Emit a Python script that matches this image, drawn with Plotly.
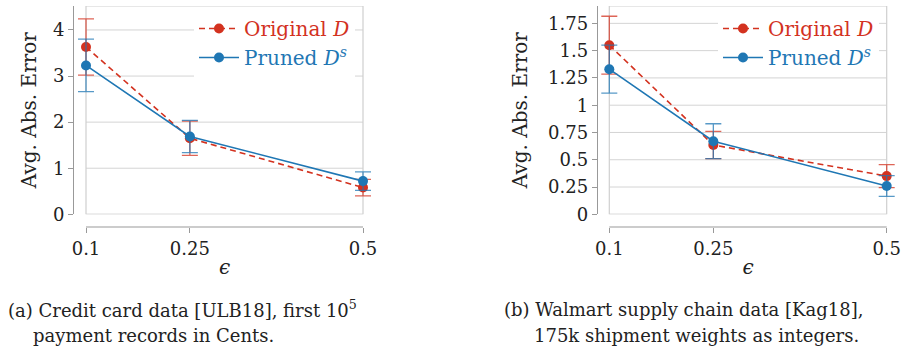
import plotly.graph_objects as go

# ---------------- data ----------------
eps = [0.1, 0.25, 0.5]
eps_labels = ["0.1", "0.25", "0.5"]

# (a) Credit card data
a_orig = [3.63, 1.65, 0.58]
a_orig_err = [0.61, 0.37, 0.18]
a_pruned = [3.23, 1.69, 0.72]
a_pruned_err = [0.57, 0.35, 0.20]
a_yticks = [0, 1, 2, 3, 4]
a_yticklabels = ["0", "1", "2", "3", "4"]
a_ymax = 4.52

# (b) Walmart supply chain data
b_orig = [1.55, 0.635, 0.35]
b_orig_err = [0.265, 0.125, 0.105]
b_pruned = [1.33, 0.67, 0.26]
b_pruned_err = [0.22, 0.16, 0.095]
b_yticks = [0, 0.25, 0.5, 0.75, 1, 1.25, 1.5, 1.75]
b_yticklabels = ["0", "0.25", "0.5", "0.75", "1", "1.25", "1.5", "1.75"]
b_ymax = 1.909

RED = "#d3321f"
BLUE = "#1f77b4"
RED_ERR = "rgba(211,50,31,0.75)"
BLUE_ERR = "rgba(31,119,180,0.75)"
FONT = "DejaVu Serif"
TXT = "#222222"
AXIS_C = "#999999"
GRID_C = "#d4d4d4"
BOX_C = "#cfcfcf"

name_orig = f"<span style='color:{RED}'>Original <i>D</i></span>"
name_pruned = f"<span style='color:{BLUE}'>Pruned <i>D</i><sup><i>s</i></sup></span>"

fig = go.Figure()


def add_panel(xa, ya, leg, orig, orig_err, pruned, pruned_err):
    fig.add_trace(go.Scatter(
        x=eps, y=orig, xaxis=xa, yaxis=ya, legend=leg,
        mode="lines+markers", name=name_orig,
        line=dict(color=RED, width=1.6, dash="6px,4px"),
        marker=dict(color=RED, size=10),
        error_y=dict(type="data", array=orig_err, color=RED_ERR, thickness=1.3, width=8),
        cliponaxis=False,
    ))
    fig.add_trace(go.Scatter(
        x=eps, y=pruned, xaxis=xa, yaxis=ya, legend=leg,
        mode="lines+markers", name=name_pruned,
        line=dict(color=BLUE, width=1.6),
        marker=dict(color=BLUE, size=10),
        error_y=dict(type="data", array=pruned_err, color=BLUE_ERR, thickness=1.3, width=8),
        cliponaxis=False,
    ))


add_panel("x", "y", "legend", a_orig, a_orig_err, a_pruned, a_pruned_err)
add_panel("x2", "y2", "legend2", b_orig, b_orig_err, b_pruned, b_pruned_err)

W, H = 902, 349
ydom = [(H - 214.3) / H, (H - 6) / H]
xpos = (H - 227) / H

# x scale: eps[0] at px0, eps[-1] at px1; a small padding keeps error caps unclipped
PAD = 0.015
xlo, xhi = eps[0] - PAD, eps[-1] + PAD


def xdomain(px0, px1):
    k = (px1 - px0) / (eps[-1] - eps[0])
    return [(px0 - PAD * k) / W, (px1 + PAD * k) / W]


common_x = dict(
    anchor="free", position=xpos, range=[xlo, xhi], automargin=False,
    tickvals=eps, ticktext=eps_labels,
    ticks="outside", ticklen=5, tickcolor=AXIS_C, tickwidth=1,
    showline=False, showgrid=False, zeroline=False,
    tickfont=dict(family=FONT, size=18, color=TXT),
    title=dict(text="<i>ϵ</i>", font=dict(family=FONT, size=20, color=TXT), standoff=2),
)
common_y = dict(
    anchor="free", domain=ydom, automargin=False,
    ticks="outside", ticklen=5, tickcolor=AXIS_C, tickwidth=1,
    showline=True, linecolor=AXIS_C, linewidth=1,
    showgrid=False, zeroline=False,
    tickfont=dict(family=FONT, size=18, color=TXT),
)
ytitle_font = dict(family=FONT, size=20, color=TXT)

fig.update_layout(
    width=W, height=H,
    margin=dict(l=0, r=0, t=0, b=0, autoexpand=False),
    paper_bgcolor="white", plot_bgcolor="white",
    xaxis=dict(domain=xdomain(86, 363), **common_x),
    yaxis=dict(position=73 / W, range=[0, a_ymax], tickvals=a_yticks, ticktext=a_yticklabels,
               title=dict(text="Avg. Abs. Error", font=ytitle_font, standoff=9), **common_y),
    xaxis2=dict(domain=xdomain(609.3, 886.7), **common_x),
    yaxis2=dict(position=596.7 / W, range=[0, b_ymax], tickvals=b_yticks, ticktext=b_yticklabels,
                title=dict(text="Avg. Abs. Error", font=ytitle_font, standoff=14), **common_y),
    legend=dict(x=194 / W, y=(H - 9) / H, xanchor="left", yanchor="top",
                bgcolor="white", font=dict(family=FONT, size=20, color=TXT),
                tracegroupgap=0, itemwidth=40),
    legend2=dict(x=718 / W, y=(H - 9) / H, xanchor="left", yanchor="top",
                 bgcolor="white", font=dict(family=FONT, size=20, color=TXT),
                 tracegroupgap=0, itemwidth=40),
    showlegend=True,
)

# grid lines, plot box and bottom axis line spanning eps[0]..eps[-1]
for xa, ya, yt, ymax in (("x", "y", a_yticks, a_ymax), ("x2", "y2", b_yticks, b_ymax)):
    for v in yt:
        fig.add_shape(type="line", xref=xa, yref=ya, x0=eps[0], x1=eps[-1], y0=v, y1=v,
                      line=dict(color=GRID_C, width=1), layer="below")
    fig.add_shape(type="rect", xref=xa, yref=ya, x0=eps[0], x1=eps[-1], y0=0, y1=ymax,
                  line=dict(color=BOX_C, width=1.2), layer="below")
    fig.add_shape(type="line", xref=xa, yref="paper", x0=eps[0], x1=eps[-1], y0=xpos, y1=xpos,
                  line=dict(color=AXIS_C, width=1), layer="above")

# captions
cap_font = dict(family=FONT, size=18, color=TXT)
captions = [
    (7, 309, "(a) Credit card data [ULB18], first 10<sup>5</sup>"),
    (32, 335, "payment records in Cents."),
    (503, 309, "(b) Walmart supply chain data [Kag18],"),
    (533, 335, "175k shipment weights as integers."),
]
for cx, cy, txt in captions:
    fig.add_annotation(x=cx / W, y=(H - cy) / H, xref="paper", yref="paper",
                       xanchor="left", yanchor="middle", text=txt, showarrow=False,
                       font=cap_font, align="left", borderpad=0)

fig.write_html("out.html")
